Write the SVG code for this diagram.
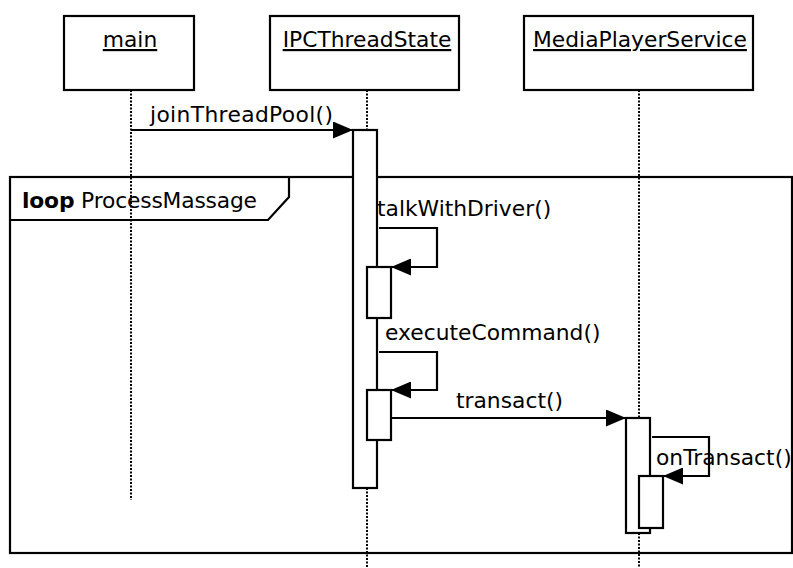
<svg xmlns="http://www.w3.org/2000/svg" width="793" height="568" viewBox="0 0 793 568">
<style>
.box{fill:#fff;stroke:#000;stroke-width:2.2}
.life{stroke:#000;stroke-width:2;stroke-dasharray:2 1.5;fill:none}
.msg{stroke:#000;stroke-width:2.2;fill:none}
.frame{fill:none;stroke:#000;stroke-width:2.2}
.t{font-family:"DejaVu Sans","Verdana",sans-serif;font-size:21.8px;fill:#000}
.u{text-decoration:underline}
</style>
<defs>
<marker id="ah" markerUnits="userSpaceOnUse" markerWidth="20" markerHeight="17" refX="20" refY="8.5" orient="auto">
<path d="M0,0 L20,8.5 L0,17 Z" fill="#000"/>
</marker>
</defs>
<rect width="793" height="568" fill="#fff"/>

<g id="lifelines">
<line class="life" x1="131" y1="90" x2="131" y2="500"/>
<line class="life" x1="367" y1="90" x2="367" y2="130"/>
<line class="life" x1="367" y1="488" x2="367" y2="568"/>
<line class="life" x1="639" y1="90" x2="639" y2="418"/>
<line class="life" x1="639" y1="533" x2="639" y2="568"/>
</g>

<g id="loop-frame">
<rect class="frame" x="10" y="177" width="782" height="376"/>
<path class="frame" d="M289,177 V197 L268,220 H10"/>
<text class="t" x="22" y="208" textLength="235" lengthAdjust="spacing"><tspan font-weight="bold">loop</tspan> ProcessMassage</text>
</g>

<g id="main">
<rect class="box" x="64" y="16" width="130" height="74"/>
<text class="t u" x="130" y="47" text-anchor="middle">main</text>
</g>
<g id="IPCThreadState">
<rect class="box" x="270" y="16" width="189" height="74"/>
<text class="t u" x="367" y="47" text-anchor="middle">IPCThreadState</text>
</g>
<g id="MediaPlayerService">
<rect class="box" x="524" y="16" width="229" height="74"/>
<text class="t u" x="640" y="47" text-anchor="middle">MediaPlayerService</text>
</g>

<g id="activations">
<rect id="act-ipc" class="box" x="353" y="130" width="24" height="358"/>
<rect id="act-talk" class="box" x="367" y="267" width="24" height="51"/>
<rect id="act-exec" class="box" x="367" y="390" width="24" height="50"/>
<rect id="act-mps" class="box" x="626" y="418" width="24" height="115"/>
<rect id="act-ontransact" class="box" x="639" y="476" width="24" height="52"/>
</g>

<g id="connectors">
<line class="msg" x1="131" y1="130" x2="353" y2="130" marker-end="url(#ah)"/>
<text class="t" x="150" y="122" textLength="183" lengthAdjust="spacing">joinThreadPool()</text>
<path class="msg" d="M379,228 H437 V267 H391" marker-end="url(#ah)"/>
<text class="t" x="377" y="216">talkWithDriver()</text>
<path class="msg" d="M379,352 H437 V390 H391" marker-end="url(#ah)"/>
<text class="t" x="385" y="340">executeCommand()</text>
<line class="msg" x1="391" y1="418" x2="626" y2="418" marker-end="url(#ah)"/>
<text class="t" x="456" y="408">transact()</text>
<path class="msg" d="M652,437 H709 V476 H663" marker-end="url(#ah)"/>
<text class="t" x="656" y="465">onTransact()</text>
</g>
</svg>
